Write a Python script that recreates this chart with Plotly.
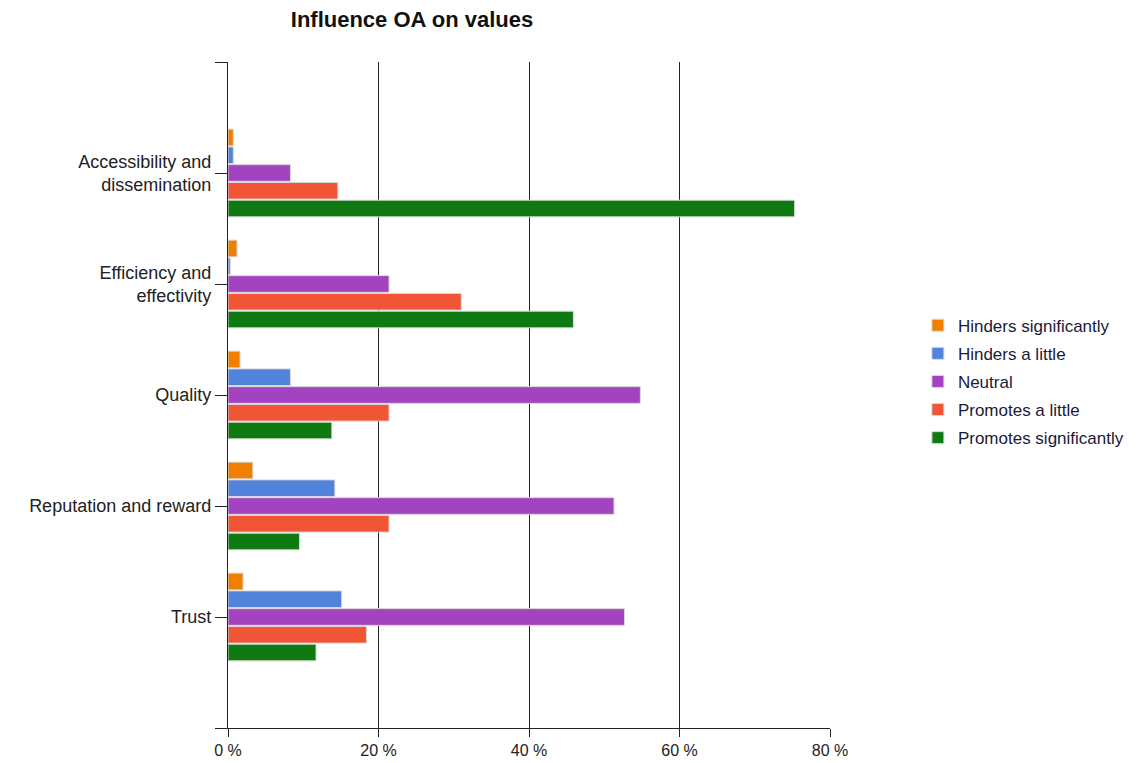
import plotly.graph_objects as go

categories = ["Accessibility and<br>dissemination", "Efficiency and<br>effectivity", "Quality",
              "Reputation and reward", "Trust"]
series_names = ["Hinders significantly", "Hinders a little", "Neutral",
                "Promotes a little", "Promotes significantly"]
hinders_significantly = [0.7, 1.2, 1.6, 3.3, 2.0]
hinders_a_little = [0.7, 0.3, 8.3, 14.2, 15.1]
neutral = [8.3, 21.4, 54.8, 51.3, 52.7]
promotes_a_little = [14.6, 31.0, 21.4, 21.4, 18.4]
promotes_significantly = [75.3, 45.9, 13.8, 9.5, 11.7]
x_ticks = [0, 20, 40, 60, 80]

values = [hinders_significantly, hinders_a_little, neutral, promotes_a_little, promotes_significantly]
colors = ["#F07F00", "#5283DA", "#A443C0", "#F05535", "#0F7A12"]

ypos = list(range(1, len(categories) + 1))

fig = go.Figure()
for i, (name, vals, col) in enumerate(zip(series_names, values, colors)):
    fig.add_trace(go.Bar(
        y=ypos, x=vals, name=name, orientation="h", legendgroup=f"g{i}",
        marker=dict(color=col, line=dict(color="#d9d9d9", width=1)),
        hoverinfo="x+name",
    ))

fig.update_layout(
    width=1147, height=763,
    paper_bgcolor="white", plot_bgcolor="white",
    margin=dict(l=228, r=317, t=62, b=35, autoexpand=False),
    barmode="group", bargap=0.2, bargroupgap=0.06,
    font=dict(family="Liberation Sans, Arial, sans-serif", size=15, color="#222"),
    title=dict(text="<b>Influence OA on values</b>", x=412 / 1147, xanchor="center",
               y=1 - 19 / 763, yanchor="middle",
               font=dict(size=22, color="#111")),
    xaxis=dict(range=[0, 80], tickvals=x_ticks, ticktext=[f"{v} %" for v in x_ticks],
               showgrid=True, gridcolor="#222", gridwidth=1.3,
               showline=True, linecolor="#222", linewidth=1.3,
               ticks="outside", ticklen=8, tickcolor="#222", tickwidth=1.3,
               tickfont=dict(size=16),
               zeroline=False, fixedrange=True),
    yaxis=dict(range=[6, 0], tickvals=[0] + ypos + [6], ticktext=[""] + categories + [""],
               showgrid=False, showline=True, linecolor="#222", linewidth=1.3,
               ticks="outside", ticklen=12, tickcolor="#222", tickwidth=1.3,
               tickfont=dict(size=18),
               zeroline=False, fixedrange=True),
    legend=dict(x=1.146, y=0.52, xanchor="left", yanchor="middle",
                font=dict(size=17, color="#1a1a3a"), tracegroupgap=3,
                itemwidth=30, traceorder="grouped"),
    showlegend=True,
)

fig.write_html("out.html", config={"displayModeBar": False},
               post_script="document.body.style.margin='0px';")
